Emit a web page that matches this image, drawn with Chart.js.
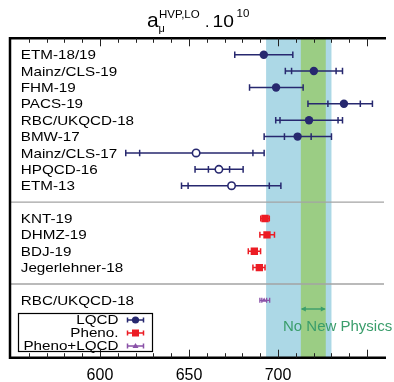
<!DOCTYPE html>
<html>
<head>
<meta charset="utf-8">
<script src="https://cdn.jsdelivr.net/npm/chart.js@4.4.0/dist/chart.umd.min.js"></script>
<style>
  html, body { margin: 0; padding: 0; background: #fff; }
  canvas { display: block; }
</style>
</head>
<body>
<canvas id="graphCanvas" width="394" height="382"></canvas>
<script>
// lattice QCD results (total error range + statistical range where shown)
var lqcdNames = ['ETM-18/19', 'Mainz/CLS-19', 'FHM-19', 'PACS-19', 'RBC/UKQCD-18', 'BMW-17', 'Mainz/CLS-17', 'HPQCD-16', 'ETM-13'];
var lqcdValues = [692.0, 720.1, 698.9, 737.0, 717.4, 711.0, 654.0, 666.8, 673.9];
var lqcdLow = [675.7, 704.1, 684.0, 716.8, 698.7, 692.2, 614.5, 653.4, 645.8];
var lqcdHigh = [708.3, 736.2, 714.1, 753.0, 736.2, 730.0, 692.2, 680.4, 701.6];
var lqcdStatLow = [null, 707.6, null, 728.0, 701.1, 703.6, 622.3, 660.9, 649.5];
var lqcdStatHigh = [null, 732.6, null, 746.2, 733.7, 718.6, 685.9, 672.8, 695.1];
var lqcdOpen = [false, false, false, false, false, false, true, true, true];
var lqcdRows = [0, 1, 2, 3, 4, 5, 6, 7, 8];

// phenomenology (data-driven)
var phenoNames = ['KNT-19', 'DHMZ-19', 'BDJ-19', 'Jegerlehner-18'];
var phenoValues = [692.7, 693.8, 686.7, 689.5];
var phenoLow = [690.3, 689.8, 683.3, 685.9];
var phenoHigh = [695.1, 698.0, 690.2, 692.7];
var phenoRows = [10, 11, 12, 13];

// pheno + lattice
var mixNames = ['RBC/UKQCD-18'];
var mixValues = [692.2];
var mixLow = [689.8];
var mixHigh = [695.3];
var mixStatLow = [690.9];
var mixStatHigh = [693.6];
var mixRows = [15];

var separatorRows = [9, 14];
var bandWide = [693.3, 730.0];
var bandNarrow = [712.8, 726.8];
var xTickLabels = [600, 650, 700, 750];

var NAVY = '#27286f';
var RED = '#ec1c24';
var PURPLE = '#8a52a8';
var GREEN_TXT = '#3a9d6b';
var FONT = '"Liberation Sans", Arial, Helvetica, sans-serif';

function pts(vals, rows, keep) {
    var out = [];
    for (var i = 0; i < vals.length; i++) {
        if (!keep || keep(i)) out.push({ x: vals[i], y: rows[i] });
    }
    return out;
}

function bars(vals, rows, lo, hi, sLo, sHi, keep) {
    var out = [];
    for (var i = 0; i < vals.length; i++) {
        if (keep && !keep(i)) continue;
        out.push({ y: rows[i], lo: lo[i], hi: hi[i], slo: sLo ? sLo[i] : null, shi: sHi ? sHi[i] : null });
    }
    return out;
}

// stretched text, the reference labels are a bit wider than normal
function sText(ctx, txt, x, y, size, align, sx, base) {
    ctx.save();
    ctx.font = size + 'px ' + FONT;
    ctx.textBaseline = base || 'middle';
    ctx.textAlign = align;
    ctx.translate(x, y);
    ctx.scale(sx, 1);
    ctx.fillText(txt, 0, 0);
    ctx.restore();
}

function capAt(ctx, px, py, h) {
    ctx.moveTo(px, py - h);
    ctx.lineTo(px, py + h);
}

var extras = {
    id: 'extras',
    beforeDatasetsDraw: function(chart) {
        var ctx = chart.ctx, a = chart.chartArea, xs = chart.scales.x, ys = chart.scales.y;
        ctx.save();
        var b0 = xs.getPixelForValue(bandWide[0]), b1 = xs.getPixelForValue(bandWide[1]);
        ctx.fillStyle = '#acd8e6';
        ctx.fillRect(b0, a.top, b1 - b0, a.bottom - a.top);
        var g0 = xs.getPixelForValue(bandNarrow[0]), g1 = xs.getPixelForValue(bandNarrow[1]);
        ctx.fillStyle = '#9bcd84';
        ctx.fillRect(g0, a.top, g1 - g0, a.bottom - a.top);

        // separators
        ctx.strokeStyle = '#a3a3a3';
        ctx.lineWidth = 1.3;
        separatorRows.forEach(function(r) {
            var py = ys.getPixelForValue(r);
            ctx.beginPath();
            ctx.moveTo(a.left, py);
            ctx.lineTo(a.right, py);
            ctx.stroke();
        });

        // error bars
        chart.data.datasets.forEach(function(ds) {
            if (!ds.errBars) return;
            ctx.strokeStyle = ds.errColor;
            ctx.lineWidth = ds.errWidth;
            ctx.beginPath();
            ds.errBars.forEach(function(e) {
                var py = ys.getPixelForValue(e.y);
                var l = xs.getPixelForValue(e.lo), h = xs.getPixelForValue(e.hi);
                ctx.moveTo(l, py);
                ctx.lineTo(h, py);
                capAt(ctx, l, py, ds.capH);
                capAt(ctx, h, py, ds.capH);
                if (e.slo != null) {
                    capAt(ctx, xs.getPixelForValue(e.slo), py, ds.capH);
                    capAt(ctx, xs.getPixelForValue(e.shi), py, ds.capH);
                }
            });
            ctx.stroke();
        });
        ctx.restore();
    },
    afterDatasetsDraw: function(chart) {
        var ctx = chart.ctx, a = chart.chartArea, xs = chart.scales.x, ys = chart.scales.y;
        ctx.save();

        // frame
        ctx.strokeStyle = '#000';
        ctx.lineWidth = 2.5;
        ctx.beginPath();
        ctx.moveTo(a.right + 2, a.top);
        ctx.lineTo(a.left, a.top);
        ctx.lineTo(a.left, a.bottom);
        ctx.lineTo(a.right + 2, a.bottom);
        ctx.stroke();

        // inward ticks, top and bottom
        ctx.lineWidth = 1;
        ctx.strokeStyle = '#222';
        ctx.beginPath();
        for (var v = 560; v <= 750; v += 10) {
            var px = Math.round(xs.getPixelForValue(v)) + 0.5;
            var len = (v % 50 === 0) ? 8 : 4.5;
            ctx.moveTo(px, a.top);
            ctx.lineTo(px, a.top + len);
            ctx.moveTo(px, a.bottom);
            ctx.lineTo(px, a.bottom - len);
        }
        ctx.stroke();

        // row labels
        ctx.fillStyle = '#000';
        var names = lqcdNames.concat(phenoNames, mixNames);
        var rows = lqcdRows.concat(phenoRows, mixRows);
        for (var i = 0; i < names.length; i++) {
            sText(ctx, names[i], a.left + 10.8, ys.getPixelForValue(rows[i]) + 1, 13, 'left', 1.17);
        }

        // legend box
        ctx.strokeStyle = '#000';
        ctx.lineWidth = 1.2;
        ctx.strokeRect(18.5, 313.5, 134, 38);
        var legNames = ['LQCD', 'Pheno.', 'Pheno+LQCD'];
        var legCols = [NAVY, RED, PURPLE];
        var legY = [320, 333, 346];
        for (var k = 0; k < 3; k++) {
            ctx.fillStyle = '#000';
            sText(ctx, legNames[k], 118.5, legY[k] + 0.5, 13, 'right', 1.17);
            ctx.strokeStyle = legCols[k];
            ctx.fillStyle = legCols[k];
            ctx.lineWidth = 1.5;
            ctx.beginPath();
            ctx.moveTo(127.5, legY[k]); ctx.lineTo(143.5, legY[k]);
            capAt(ctx, 127.5, legY[k], 2.5);
            capAt(ctx, 143.5, legY[k], 2.5);
            ctx.stroke();
            ctx.beginPath();
            if (k === 0) {
                ctx.arc(135.5, legY[k], 3.6, 0, Math.PI * 2);
            } else if (k === 1) {
                ctx.rect(132, legY[k] - 3.5, 7, 7);
            } else {
                ctx.moveTo(135.5, legY[k] - 3);
                ctx.lineTo(138.5, legY[k] + 2);
                ctx.lineTo(132.5, legY[k] + 2);
                ctx.closePath();
            }
            ctx.fill();
        }

        // no new physics arrow + note
        var g0 = xs.getPixelForValue(bandNarrow[0]), g1 = xs.getPixelForValue(bandNarrow[1]);
        var ay = 309;
        ctx.strokeStyle = GREEN_TXT;
        ctx.fillStyle = GREEN_TXT;
        ctx.lineWidth = 1.4;
        ctx.beginPath();
        ctx.moveTo(g0 + 1, ay); ctx.lineTo(g1 - 1, ay);
        ctx.stroke();
        ctx.beginPath();
        ctx.moveTo(g0, ay); ctx.lineTo(g0 + 5, ay - 2.5); ctx.lineTo(g0 + 5, ay + 2.5); ctx.closePath();
        ctx.moveTo(g1, ay); ctx.lineTo(g1 - 5, ay - 2.5); ctx.lineTo(g1 - 5, ay + 2.5); ctx.closePath();
        ctx.fill();
        ctx.font = '15px ' + FONT;
        ctx.textAlign = 'left';
        ctx.textBaseline = 'alphabetic';
        ctx.fillText('No New Physics', 283, 330.5);

        // title a_mu^{HVP,LO} . 10^10
        ctx.fillStyle = '#000';
        ctx.font = '21px ' + FONT;
        ctx.fillText('a', 147, 27);
        ctx.font = '11px ' + FONT;
        ctx.fillText('\u03bc', 158.5, 31.5);
        ctx.font = '11.5px ' + FONT;
        ctx.fillText('HVP,LO', 159, 18.3);
        ctx.font = '16px ' + FONT;
        ctx.fillText('.', 205, 27);
        sText(ctx, '10', 212.5, 27, 16, 'left', 1.2, 'alphabetic');
        ctx.font = '11.5px ' + FONT;
        ctx.fillText('10', 236.5, 17);
        ctx.restore();
    }
};

var isOpen = function(i) { return lqcdOpen[i]; };
var isFilled = function(i) { return !lqcdOpen[i]; };

var chartdata = {
    datasets: [{
        label: 'LQCD',
        data: pts(lqcdValues, lqcdRows, isFilled),
        pointStyle: 'circle',
        pointRadius: 4.2,
        backgroundColor: NAVY,
        borderColor: NAVY,
        borderWidth: 0,
        errBars: bars(lqcdValues, lqcdRows, lqcdLow, lqcdHigh, lqcdStatLow, lqcdStatHigh, isFilled),
        errColor: NAVY, errWidth: 1.5, capH: 3.3
    }, {
        label: 'LQCD (open)',
        data: pts(lqcdValues, lqcdRows, isOpen),
        pointStyle: 'circle',
        pointRadius: 3.7,
        backgroundColor: '#fff',
        borderColor: NAVY,
        borderWidth: 1.6,
        errBars: bars(lqcdValues, lqcdRows, lqcdLow, lqcdHigh, lqcdStatLow, lqcdStatHigh, isOpen),
        errColor: NAVY, errWidth: 1.5, capH: 3.3
    }, {
        label: 'Pheno.',
        data: pts(phenoValues, phenoRows),
        pointStyle: 'rect',
        pointRadius: 5.2,
        backgroundColor: RED,
        borderColor: RED,
        borderWidth: 0,
        errBars: bars(phenoValues, phenoRows, phenoLow, phenoHigh),
        errColor: RED, errWidth: 1.5, capH: 3
    }, {
        label: 'Pheno+LQCD',
        data: pts(mixValues, mixRows),
        pointStyle: 'triangle',
        pointRadius: 2.8,
        backgroundColor: PURPLE,
        borderColor: PURPLE,
        borderWidth: 0,
        errBars: bars(mixValues, mixRows, mixLow, mixHigh, mixStatLow, mixStatHigh),
        errColor: PURPLE, errWidth: 1.3, capH: 2.5
    }]
};

var graphTarget = document.getElementById('graphCanvas');

var plot = new Chart(graphTarget, {
    type: 'scatter',
    data: chartdata,
    plugins: [extras],
    options: {
        responsive: false,
        animation: false,
        layout: { padding: { left: 7.5, right: 0, top: 38.3, bottom: 0 } },
        plugins: { legend: { display: false }, tooltip: { enabled: false } },
        scales: {
            x: {
                type: 'linear',
                position: 'bottom',
                min: 549.5,
                max: 759.5,
                afterFit: function(s) { s.height = 24.3; },
                grid: { display: false, drawTicks: false },
                border: { display: false },
                ticks: {
                    stepSize: 50,
                    autoSkip: false,
                    maxRotation: 0,
                    padding: 10,
                    color: '#000',
                    font: { family: FONT, size: 16, lineHeight: 1 },
                    callback: function(v) {
                        return xTickLabels.indexOf(v) >= 0 ? String(v) : '';
                    }
                }
            },
            y: {
                type: 'linear',
                reverse: true,
                min: -1,
                max: 18.5,
                display: false
            }
        }
    }
});
</script>
</body>
</html>
